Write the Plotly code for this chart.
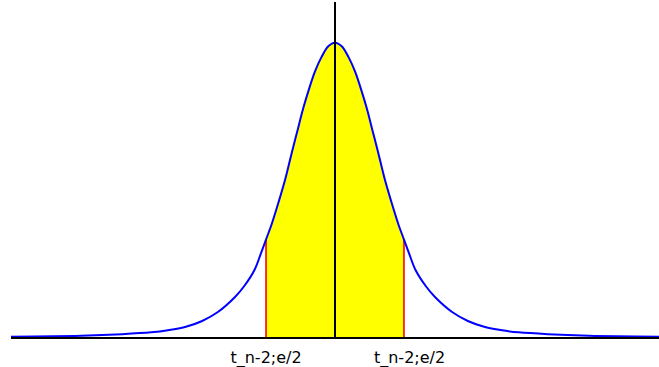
import plotly.graph_objects as go

# density curve (x in t units, y in density units)
curve_x = [-7.0, -5.49, -4.60, -3.97, -3.61, -3.24, -2.87, -2.53, -2.16, -1.96,
           -1.74, -1.60, -1.49, -1.367, -1.225, -1.08, -0.935, -0.81, -0.685, -0.577,
           -0.432, -0.287, -0.145, 0.0, 0.145, 0.287, 0.432, 0.577, 0.685, 0.81,
           0.935, 1.08, 1.225, 1.367, 1.49, 1.60, 1.74, 1.96, 2.16, 2.53,
           2.87, 3.24, 3.61, 3.97, 4.60, 5.49, 7.0]
curve_y = [0.0004, 0.0016, 0.0035, 0.0058, 0.0084, 0.0125, 0.0201, 0.0313, 0.0501, 0.0639,
           0.0840, 0.1049, 0.1222, 0.1417, 0.1680, 0.1968, 0.2307, 0.2590, 0.2870, 0.3080,
           0.3330, 0.3515, 0.3645, 0.3690, 0.3645, 0.3515, 0.3330, 0.3080, 0.2870, 0.2590,
           0.2307, 0.1968, 0.1680, 0.1417, 0.1222, 0.1049, 0.0840, 0.0639, 0.0501, 0.0313,
           0.0201, 0.0125, 0.0084, 0.0058, 0.0035, 0.0016, 0.0004]

crit_x = [-1.49, 1.49]
crit_y = [0.1222, 0.1222]
label_x = [-1.49, 1.61]
crit_labels = ["t_n-2;e/2", "t_n-2;e/2"]

inside = [(x, y) for x, y in zip(curve_x, curve_y) if crit_x[0] <= x <= crit_x[1]]

fig = go.Figure()

fig.add_trace(go.Scatter(
    x=[p[0] for p in inside], y=[p[1] for p in inside],
    mode='lines', line=dict(width=0, shape='spline', smoothing=1.0),
    fill='tozeroy', fillcolor='#ffff00', hoverinfo='skip'))

for cx, cy in zip(crit_x, crit_y):
    fig.add_trace(go.Scatter(x=[cx, cx], y=[0, cy], mode='lines',
                             line=dict(color='#ff0000', width=1.6)))

fig.add_trace(go.Scatter(x=curve_x, y=curve_y, mode='lines',
                         line=dict(color='#0000ff', width=2, shape='spline', smoothing=1.0)))

fig.add_shape(type='line', x0=0, x1=0, y0=0, y1=1, xref='x', yref='paper',
              line=dict(color='black', width=2))

fig.update_layout(
    width=659, height=367,
    margin=dict(l=11, r=0, t=2, b=30),
    paper_bgcolor='white', plot_bgcolor='white',
    showlegend=False,
    font=dict(family='DejaVu Sans', size=16, color='black'),
    xaxis=dict(range=[-7.0, 7.0], showgrid=False, zeroline=False,
               showline=True, linecolor='black', linewidth=2,
               tickmode='array', tickvals=label_x, ticktext=crit_labels,
               ticks='', ticklen=0, ticklabelstandoff=5),
    yaxis=dict(range=[0, 0.42], visible=False, showgrid=False, zeroline=False),
)

# drop the default 8px page margin so the chart sits at the window's corner
fig.write_html("out.html", config={'displayModeBar': False},
               post_script="document.body.style.margin='0';")
